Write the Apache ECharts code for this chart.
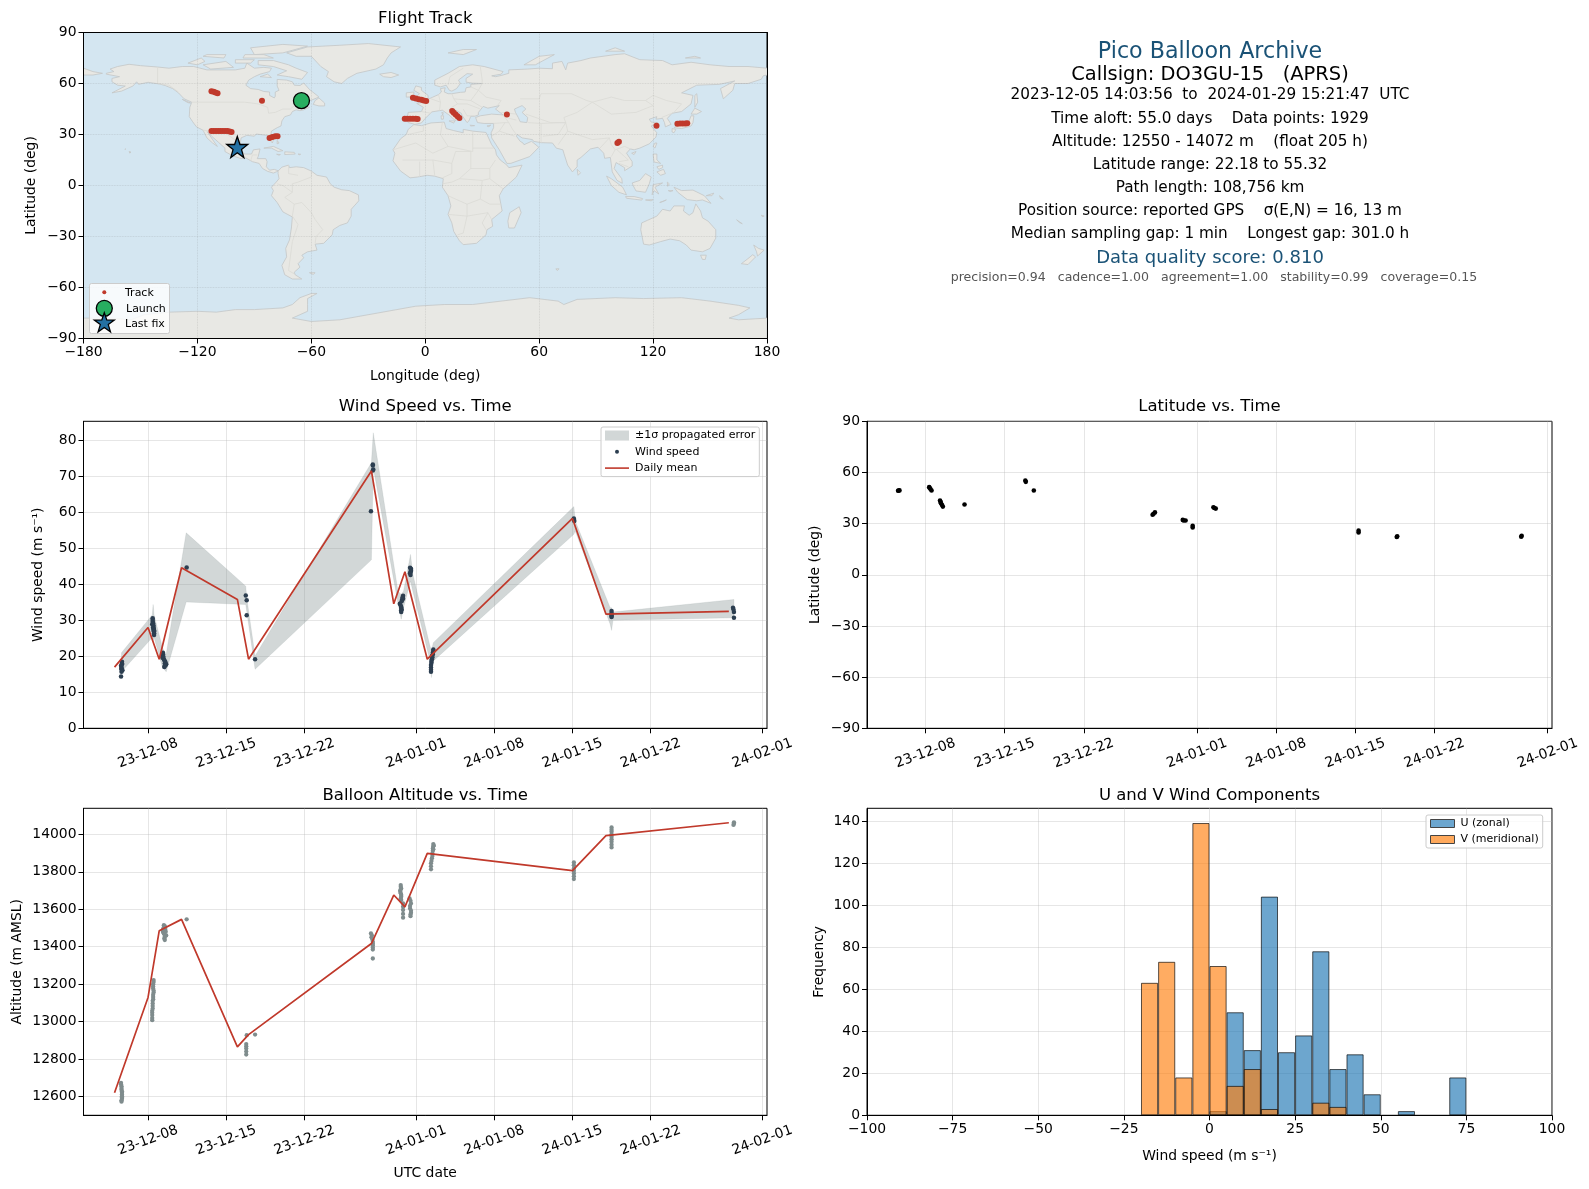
<!DOCTYPE html>
<html><head><meta charset="utf-8">
<style>html,body{margin:0;padding:0;background:#fff}#c{width:1589px;height:1189px}</style>
<script src="https://cdn.jsdelivr.net/npm/echarts@6/dist/echarts.min.js"></script>
</head><body><div id="c"></div>
<script>
// ---------- data ----------
const dateTicks=['23-12-08','23-12-15','23-12-22','24-01-01','24-01-08','24-01-15','24-01-22','24-02-01'];
const dailyT=['23-12-05T00','23-12-08T00','23-12-09T00','23-12-11T00','23-12-16T00','23-12-17T00','23-12-28T00','23-12-30T00','23-12-31T00','24-01-02T00','24-01-15T00','24-01-18T00','24-01-29T00'];
const dailyWind=[17.0,28.0,19.2,44.6,35.8,19.2,71.5,34.6,43.5,19.2,58.3,31.7,32.5];
const dailyAlt=[12620,13129,13485,13546,12865,12931,13417,13676,13613,13898,13806,13993,14062];
const bandT=['23-12-05T15','23-12-08T09','23-12-08T11','23-12-08T13','23-12-09T07','23-12-09T11','23-12-09T15','23-12-11T10','23-12-16T18','23-12-16T20','23-12-17T14','23-12-28T00','23-12-28T04','23-12-30T09','23-12-30T16','23-12-30T21','23-12-31T12','23-12-31T17','24-01-02T05','24-01-02T09','24-01-02T13','24-01-15T03','24-01-15T06','24-01-18T09','24-01-18T12','24-01-18T15','24-01-29T11'];
const bandUpper=[21.0,31.5,34.4,31.5,22.4,21.3,20.6,54.3,39.5,36.3,20.1,73.8,82.1,38.1,37.2,38.1,48.3,42.8,23.3,21.5,23.8,61.6,57.6,33.5,33.5,32.3,35.8];
const bandLower=[15.7,25.2,24.3,25.2,16.9,16.4,15.7,35.1,34.4,32.6,16.4,46.8,72.4,34.9,30.3,33.5,40.9,38.1,19.2,14.1,18.7,53.9,54.8,28.9,27.2,30.0,30.7];
const windT=['23-12-05T16','23-12-05T16','23-12-05T15','23-12-05T15','23-12-05T15','23-12-05T14','23-12-05T16','23-12-05T14','23-12-05T15','23-12-05T17',
 '23-12-08T10','23-12-08T10','23-12-08T09','23-12-08T11','23-12-08T12','23-12-08T13','23-12-08T13','23-12-08T12','23-12-08T10','23-12-08T11','23-12-08T12','23-12-08T12','23-12-08T13','23-12-08T13',
 '23-12-09T08','23-12-09T07','23-12-09T10','23-12-09T07','23-12-09T13','23-12-09T15','23-12-09T11','23-12-09T12','23-12-09T08','23-12-09T09','23-12-09T11','23-12-09T13','23-12-09T14','23-12-09T12',
 '23-12-11T11','23-12-16T18','23-12-16T20','23-12-16T20','23-12-17T14','23-12-27T23','23-12-28T03','23-12-28T03','23-12-28T03','23-12-28T04',
 '23-12-30T20','23-12-30T18','23-12-30T13','23-12-30T16','23-12-30T16','23-12-30T17','23-12-30T20','23-12-30T19','23-12-30T17','23-12-30T15','23-12-30T16','23-12-30T16',
 '23-12-31T11','23-12-31T13','23-12-31T12','23-12-31T12','23-12-31T13','23-12-31T13','23-12-31T11','24-01-02T13','24-01-02T12','24-01-02T10','24-01-02T10','24-01-02T09','24-01-02T08','24-01-02T08','24-01-02T13','24-01-02T12','24-01-02T11','24-01-02T09','24-01-02T08','24-01-02T08',
 '24-01-15T03','24-01-15T04','24-01-15T03','24-01-18T12','24-01-18T12','24-01-18T12','24-01-18T12','24-01-18T12','24-01-29T09','24-01-29T11','24-01-29T11','24-01-29T10'];
const windV=[18.5,17.8,17.0,16.4,15.7,14.4,18.1,17.4,16.7,16.1,
 30.6,29.6,28.9,28.1,27.5,26.9,25.9,27.1,30.1,29.2,28.5,27.8,27.2,26.4,
 21.0,20.1,19.2,19.6,18.5,17.8,17.0,18.0,20.6,19.9,18.9,18.3,17.6,17.3,
 44.7,36.9,35.6,31.4,19.2,60.3,73.3,71.6,73.0,71.9,
 36.8,35.8,34.6,33.5,32.3,33.0,36.0,36.4,35.3,34.1,33.7,32.8,
 44.6,44.0,43.4,42.6,44.3,43.7,43.1,21.9,21.0,20.1,19.2,18.2,16.9,15.7,21.5,20.5,19.7,18.7,17.6,16.3,
 58.0,57.6,58.3,32.6,31.5,30.9,32.0,31.2,33.5,32.3,30.7,33.0];
const altT=['23-12-05T14','23-12-05T15','23-12-05T15','23-12-05T16','23-12-05T16','23-12-05T16','23-12-05T15','23-12-05T14','23-12-05T15','23-12-05T16','23-12-05T16','23-12-05T16','23-12-05T15',
 '23-12-08T12','23-12-08T11','23-12-08T11','23-12-08T12','23-12-08T11','23-12-08T10','23-12-08T10','23-12-08T09','23-12-08T09','23-12-08T09','23-12-08T12','23-12-08T11','23-12-08T12','23-12-08T11','23-12-08T11','23-12-08T10','23-12-08T10','23-12-08T09','23-12-08T09',
 '23-12-09T10','23-12-09T09','23-12-09T08','23-12-09T12','23-12-09T11','23-12-09T13','23-12-09T10','23-12-09T12','23-12-09T11','23-12-09T09','23-12-09T10','23-12-09T12','23-12-09T12','23-12-09T13','23-12-09T14','23-12-09T15',
 '23-12-11T11','23-12-16T20','23-12-16T19','23-12-16T19','23-12-16T19','23-12-16T19','23-12-16T19','23-12-17T14',
 '23-12-27T23','23-12-28T00','23-12-28T03','23-12-28T03','23-12-28T03','23-12-28T03','23-12-28T01','23-12-28T02','23-12-28T03','23-12-28T03',
 '23-12-30T15','23-12-30T16','23-12-30T14','23-12-30T16','23-12-30T15','23-12-30T20','23-12-30T20','23-12-30T20','23-12-30T15','23-12-30T14','23-12-30T15','23-12-30T16','23-12-30T16','23-12-30T20','23-12-30T20',
 '23-12-31T10','23-12-31T13','23-12-31T11','23-12-31T13','23-12-31T12','23-12-31T12','23-12-31T11','23-12-31T13','23-12-31T12',
 '24-01-02T13','24-01-02T12','24-01-02T11','24-01-02T10','24-01-02T08','24-01-02T08','24-01-02T13','24-01-02T12','24-01-02T11','24-01-02T09','24-01-02T08','24-01-02T14','24-01-02T13',
 '24-01-15T03','24-01-15T03','24-01-15T03','24-01-15T03','24-01-15T03','24-01-15T03','24-01-15T03','24-01-18T12','24-01-18T12','24-01-18T12','24-01-18T12','24-01-18T12','24-01-18T12','24-01-18T12','24-01-18T12','24-01-18T12','24-01-29T11','24-01-29T10','24-01-29T11'];
const altV=[12673,12655,12637,12620,12602,12588,12573,12664,12646,12628,12611,12595,12580,
 13222,13200,13177,13156,13132,13111,13083,13058,13035,13008,13211,13188,13166,13144,13120,13097,13070,13047,13020,
 13515,13498,13480,13462,13444,13490,13470,13510,13506,13489,13471,13453,13436,13500,13480,13460,
 13546,12928,12880,12856,12824,12868,12840,12931,
 13471,13450,13426,13408,13385,13337,13460,13438,13417,13396,
 13729,13711,13694,13676,13658,13631,13596,13555,13720,13702,13685,13667,13649,13614,13575,
 13658,13631,13604,13581,13563,13645,13618,13592,13572,
 13948,13925,13898,13872,13845,13813,13936,13912,13885,13858,13829,13940,13920,
 13850,13818,13791,13761,13835,13805,13776,14037,14014,13987,13961,13930,14025,14000,13974,13945,14064,14050,14057];
const latT=['23-12-05T14','23-12-05T15','23-12-05T17','23-12-08T08','23-12-08T09','23-12-08T11','23-12-08T13','23-12-09T07','23-12-09T08','23-12-09T09','23-12-09T11','23-12-09T13','23-12-11T11','23-12-16T20','23-12-16T21','23-12-17T14','23-12-28T02','23-12-28T04','23-12-28T07','23-12-30T18','23-12-30T20','23-12-31T00','23-12-31T15','23-12-31T15','24-01-02T11','24-01-02T13','24-01-02T16','24-01-15T07','24-01-15T07','24-01-18T16','24-01-18T17','24-01-29T16','24-01-29T17'];
const latV=[49.3,49.4,49.5,51.4,51.0,50.2,49.4,43.6,42.8,42.0,41.0,40.0,41.2,55.3,54.5,49.4,35.2,35.8,36.6,32.2,31.8,31.8,28.8,27.8,39.6,39.2,38.8,25.9,24.8,22.2,22.6,22.3,22.9];
const trackLon=[-112.6,-111.5,-110.5,-109.4,-86,-112.6,-111.4,-110.2,-109,-107.8,-106.6,-105.4,-104.2,-103,-102,-82,-80.5,-79,-77.8,-10.8,-9.5,-8,-6.5,-5,-4,-6.5,-5,-3.5,-2,-0.8,0.5,14.2,15,16,17,18,43,101.2,102,121.8,132.8,134.2,135.6,137,138];
const trackLat=[55.4,55.1,54.7,54.2,49.9,32,32,32,32,32,32,32,32,31.8,31.5,28,28.6,29,29,39.3,39.3,39.3,39.3,39.3,39.1,51.6,51.2,50.8,50.4,50,49.7,43.8,42.8,41.8,40.8,39.7,41.7,25,25.8,35.2,36.3,36.4,36.4,36.5,36.6];
const launchPoint=[-65.2,49.9];
const lastFix=[-99,22.6];
const binCentres=[-17.5,-12.5,-7.5,-2.5,2.5,7.5,12.5,17.5,22.5,27.5,32.5,37.5,42.5,47.5,52.5,57.5,62.5,67.5,72.5];
const uCounts=[0,0,0,0,2,49,31,104,30,38,78,22,29,10,0,2,0,0,18];
const vCounts=[63,73,18,139,71,14,22,3,0,0,6,4,0,0,0,0,0,0,0];
const infoLines=['2023-12-05 14:03:56  to  2024-01-29 15:21:47  UTC','Time aloft: 55.0 days    Data points: 1929','Altitude: 12550 - 14072 m    (float 205 h)','Latitude range: 22.18 to 55.32','Path length: 108,756 km','Position source: reported GPS    σ(E,N) = 16, 13 m','Median sampling gap: 1 min    Longest gap: 301.0 h'];
// coarse coastlines, [lon,lat] pairs
const landShapes=[
[-168,66,-164,67,-166,68.5,-162,70,-156,71.3,-150,70.5,-141,69.7,-135,69,-128,70,-122,70,-115,68,-108,68,-100,68,-95,69,-94,72,-90,69,-85,69.5,-81,69,-82,67,-87,65.5,-90,64,-93,62,-94.5,59,-92,57,-88,56.5,-85,55.3,-82,55,-82,53,-79.5,51.5,-79,52.5,-79,55,-77,56,-78,58.5,-78,62.4,-73,62,-70,61,-69,59,-66,58.8,-64,60.3,-61,56.5,-57,53,-56,52,-60,50.2,-66,50,-69,48.5,-65,49,-65,47.5,-61,46,-64,44.5,-66,44,-68,44.5,-70,43.5,-71,41.5,-74,40.5,-75.5,38,-76,35,-78,34,-81,32,-81.3,30,-80,27,-80.5,25,-82,27,-83,29.5,-85,29.7,-89,30.3,-90,29,-94,29.5,-97,28,-97.5,24,-97.5,21,-95,18.5,-91.5,18.5,-90.5,21,-87,21.5,-88,17,-88.5,15.8,-84,15.8,-83.3,14,-83.7,11,-82,9,-79.5,9.5,-77.3,8.6,-78.5,8,-80,7.3,-83,8.3,-85.7,10,-87.5,13,-91,14,-94.5,16.2,-97,15.8,-101.5,17.5,-105.5,20,-105.5,22,-109,25.5,-112.5,29,-114.8,31.7,-112,27,-109.5,23,-112,25,-115,28,-117,32.5,-120.5,34.5,-122.5,37.5,-124.3,40.5,-124,46,-123,49,-127,51,-130,54.5,-133,57,-137,58.8,-140,59.7,-146,60.7,-151,59.5,-152,61,-154,58.5,-160,55.5,-165,54.5,-158,58.5,-162,59,-165,61,-165,63,-161,64,-168,65.5],
[-73,78,-68,76,-60,76,-55,70,-51,67,-52,64,-48,61,-44,60,-41,63,-36,66,-26,68.5,-22,71,-20,75,-18,78,-13,81.5,-30,83.5,-45,82.5,-62,81.5],
[-80,73.5,-72,71,-68,69,-62,66.5,-65,62.5,-72,64,-78,65,-73,67.5,-80,70,-88,71,-88,73.5],
[-117,71,-105,73,-101,69.5,-113,68.5],[-125,72,-118,75,-116,73,-120,71],[-90,77,-75,78,-62,82,-75,83,-92,81],[-96,75,-80,75,-85,77,-95,77],[-117,76,-106,75,-105,77,-115,77],[-100,72,-92,72,-90,74,-100,74],[-87,64,-81,63.5,-83,65.5],
[-59,47.7,-56,46.8,-53,46.8,-53,48.5,-56,51.5,-58,50],[-85,22,-80,23,-75,20.5,-77.5,20,-81,22],[-74,19.8,-69,19.5,-68.5,18.5,-74,18.2],[-78.3,18.4,-76.3,18.2,-77,17.8],[-67,18.5,-65.6,18.4,-66,18],[-128,50.7,-123.5,48.5,-125,48.7],[-156,20,-155,19.7,-155.6,19],[-158,21.6,-157.7,21.3,-158.2,21.3],[-78,26.5,-77,25,-78,24.5],
[-77.5,8.5,-75.5,10.8,-72,12,-71.5,10.5,-68,11,-64,10.5,-60,8.5,-57,6,-52,5,-50,1,-48,-1,-44,-2.5,-40,-3,-35.2,-5.5,-35,-9,-39,-14,-39,-18,-41,-22,-45,-23.5,-48.5,-26,-49,-29,-53.5,-34,-58,-34.5,-57,-38,-62,-39,-65,-41,-64,-42.5,-67,-46,-66,-48,-69,-51,-68.5,-52.5,-65,-55,-70,-55,-74,-52.5,-75.5,-47,-73,-42,-73.5,-37,-71.5,-32,-70.5,-25,-70,-18.5,-75,-15.5,-78,-10,-81,-6,-80,-3,-81,-1,-78.5,2,-77,4,-77.5,7],
[-61,-51.3,-58,-51.3,-59,-52.3],
[-6,35.8,-2,35.2,3,36.8,10,37.3,11,33.5,15,32.3,20,31,20,33,25,32,32,31.2,32.5,30,35,24,37,21,37.5,18,39.5,15,43,12,44,10.5,51,12,48,5,41,-2,39,-6,40.5,-15,35,-20,35.5,-24,32.5,-26,32,-29,27,-34,20,-34.8,18,-32.5,15,-27,14,-22,12,-17,13.5,-12,12,-6,9,-1,9.5,4,5,5.5,1,6,-4,5,-8,4.5,-13,8.5,-17,14.5,-16,19,-17,21,-13,27.5,-10,30,-9,33],
[-9,37,-9.5,38.8,-9,43,-2,43.5,-1,46,-4.5,48.3,-1.5,48.8,2,51,4,52,7,53.5,8.5,55,8,57,10.5,57.5,10,55,12,54,14,54,18.5,54.8,21,55,21.5,57.5,24,58,24,59.5,30,60,25,60.2,21.5,60.8,21.5,63,25,65.5,22,65.8,17.5,62,18.5,60,16.5,57,14,55.5,12.7,56,11,59,8,58,5,59,5,62,12,66,18,70,25,71,31,70,41,67,40,65.5,35,64.5,37,64,40,64.7,44,66,44,68,54,68.5,60,69,67,68.7,67,72,72,73,74,68,75,72,82,73.5,87,75,100,77,105,77.5,113,74,125,73.5,130,71,140,72.5,150,71,160,70,170,70,180,69,180,65,178,64.5,177,62.5,170,60,163,60,162,56,157,51,155.5,57,163,61.5,155,59.5,143,59,135,54.5,141,53,140,48,135,43.5,130,42.5,127.5,39.5,129.5,36,126.5,34.5,126,37,125,39.5,121.5,39,122,40.5,118,39,119,37.3,122.5,37,119,35,122,31,121.5,28.5,118,24.5,113,22,110,21,108,21.5,106,19,109,14,109,11.5,105,8.7,105,10.5,100.5,13.5,99.5,10,103.5,4,103.8,1.3,101,3,98.5,8,97.5,16.5,94.5,16,94,19,91,22.5,87,21.5,82,16.5,80,15,80,11,77.5,8,75,12,73,19,72.5,21,69,22,67,25,61,25.2,57,26,56.5,27,51,28,48.5,30,48,29,50,26,51.5,25,52,24,56,26,59.8,22.5,55,17,45,13,43,13,39,21,35,28,34.7,31,36,34,36,36.5,31,36.5,27.5,37,26.5,40,29,41,35,42,41,41.5,37,45,39,47,35,46,33,45.5,30.5,46.5,28,43,28,41.5,26,40.7,24,40.7,23,38,22,37,19.5,41,19,42.5,14,45.5,12.5,44.5,16,42,18.5,40,16.5,39.5,16,38,12.5,41.5,9,44.3,3.5,43.3,0,39.5,-2,36.8,-5.5,36],
[-5.5,50,1.5,51.2,1.5,53,-2,56,-2,57.7,-5,58.6,-6,56,-3,54,-5,52],[-10,52,-6,52.2,-6,55,-10,54.5],[-24,65.5,-18,66.5,-14,65,-18,63.5,-22,64],[12,78,20,80,27,80,20,77],[52,71,58,71,68,77,60,76],[95,79,105,79,100,81],[137,75,145,75,142,76],[-180,69,-175,67,-170,66,-175,65,-180,65],
[142,46,143.5,49,143,54,142,53,142,48],[131,34,135,33.5,140,35,141,37,141.5,41,140,41,139,38,136,36.5,133,35.5],[140,42,143,42,145.5,43.5,142,45.5],[130,33.5,132,33,131,31,130,31.5],[120,23,121,25,122,25,121,22],[108.7,19,111,20,110,18.2],
[120,18.5,122,18.5,122,15,124,13,120.5,13.8],[122,8,125.5,9.5,126.5,7,124,6],[122,11,125,12,125,10.5,123,9.5],[109,1.5,113,3,116,7,119,5,118,1,116,-4,111,-3.2,109.5,0],[95.5,5.5,98,4,104,-1,106,-5.5,102,-4,98,0],[105.5,-6.5,110,-6.5,114.5,-7.7,114,-8.6,106,-7.5],[119.5,-5.5,120,0.5,125,1.5,121,-1,123,-5,120.5,-3],[131,-1,135,-3,141,-2.7,147,-6,150.5,-10.5,146,-8.5,143,-9,138,-8.3,133,-4],[123.5,-10,127,-8.5,125,-9.5],[116,-8.5,120,-8.3,119,-9],[148,-6,152,-4.5,151,-6],[155,-6,157,-8,155.5,-7.5],[128,-3,130.5,-3,129,-3.6],[127.5,2,128.5,1,127.7,-0.5],
[80,9.5,81.8,7.5,80.5,6],[49.5,-12.5,50.5,-16,47,-25,44,-25,43.5,-21,44.5,-16],
[114,-22,113.5,-26,115,-34.5,118,-35,124,-33,129,-31.5,134,-32.5,137.5,-35,140,-38,146,-39,150,-37,153,-31,153,-26,149,-21,146,-19,145,-15,142.5,-10.8,141,-16,139,-17.5,136,-15,136.5,-12,131,-12,129,-15,125,-14,122,-18,117,-20.5],
[145,-41,148,-41,147.5,-43.5,146,-43.5],[173,-35,175.5,-37,178.5,-38,175,-41.5,174.5,-39],[172.5,-40.7,174,-42,170,-46.5,166.5,-46,170,-43],[164,-20.2,167,-22.5,165.5,-21.8],[177,-17.5,178.5,-18,177.5,-18.3],
[8.3,41,9.7,41,9.5,39,8.5,39],[8.7,43,9.5,42.8,9.2,41.5],[12.5,38,15.5,38,15,36.7],[23.5,35.5,26,35.2,24,35],[32.5,35,34.5,35.5,33.5,34.6],[68.8,-49,70.5,-49,69.5,-50],
[-180,-78,-165,-78,-155,-79,-148,-76,-135,-74.5,-120,-74,-110,-74.5,-100,-73,-90,-73,-75,-72,-70,-70,-66,-66,-60,-63.5,-57,-63.5,-62,-66.5,-62,-70,-62,-74,-70,-78,-60,-80,-45,-79,-35,-77,-25,-75,-15,-73,-5,-71,10,-70,25,-70,40,-68,55,-66,70,-68,73,-70,80,-67,100,-66,115,-66.5,135,-66,150,-68,165,-70.5,171,-72,165,-76,160,-78,165,-79,180,-78,180,-90,-180,-90]
];
const inlandSeas=[[47,45,51,47,53,45,51,43,54,40,53.5,37,50,37.5,49,40,47.5,43]];
const borderLines=[
[-123,49,-95,49,-88,48,-83,46,-82.5,42.5,-79,43,-75,45,-71,45,-69,47,-67.5,45],[-141,69.7,-141,60,-135,59,-130,55],[-117,32.5,-108,31.5,-106,31.7,-103,29,-99,26,-97.3,26],[-92,14.5,-91,18,-88.5,18],
[-70,-18,-69,-11,-74,-7,-70,-4,-70,1,-67,2,-60,5,-60,8.5],[-58,-34,-57.5,-30,-54,-26,-58,-20,-60,-16,-65,-10,-69,-11],[-70,-18,-67,-23,-70,-33,-72,-50,-69,-52],[-78,1,-75,0,-70,-4],[-72,12,-72,7,-67,6],
[-9,30,-1,32,-1,35],[9,37,8,30,12,23,25,20,25,31.5],[25,22,36,22],[-17,21,-5,25,4,19,12,23],[-12,15,4,15,14,13,16,20,24,20],[24,10,24,20],[14,13,14,7,9,4.5],[24,10,34,10,37,15],[34,10,34,4,41,-2],[24,10,18,4,14,2,9,1],[18,4,30,3,34,4],[30,3,29,-8,22,-11,12,-6],[29,-8,34,-11,40,-11],[22,-11,22,-18,12,-17],[22,-18,20,-28,17,-29],[22,-18,33,-16,35,-20],[33,-16,30,-22,32,-26],[5,6,4,15],[-3,5,-3,14],
[-2,43.5,3,42.5],[3,51,8,49,7.5,44],[8,49,7,53.5],[14,54,15,51,24,50,30,46],[15,51,17,48,22,48,29,45],[14,46,17,48],[20,45,22,41,26,41],[24,58,28,56,24,50],[30,60,28,56,32,52,40,50,38,47],[29,70,30,62,30,60],[20,69,13,64,12,59],[40,43,48,42],[41,41.5,44,37,42,37,36,36.5],[44,37,46,33,48,30],[42,37,39,32,35,29],[39,32,47,29],[44,39.5,48,38.5],[54,37,61,36.5,61,25],[61,36.5,71,37,74,37,70,30,62,29],[74,37,75,32,70,24],[75,32,80,30,88,27,97,28,92,22],[97,28,98,24,100,21,98,17],[100,21,105,23,108,21.5],[101,21,105,17,107,15],[102,13,107,11],[107,15,102,14],
[50,51,60,51,61,54,77,54,85,50,88,49],[53,42,66,37,74,37],[80,43,73,40,74,37],[88,49,80,43],[88,49,98,42,111,43,120,47,116,50,120,53,127,50,135,48,131,43,130,42.5],[88,49,98,52,105,50,116,50],[124.5,40,130,42.5]
];
const STAR='path://M12 0L14.9 8.3H23.4L16.6 13.6L19.1 22L12 17L4.9 22L7.4 13.6L.6 8.3H9.1Z';
// ---------- helpers ----------
const T=s=>Date.parse('20'+s+':00:00Z');
const D=s=>Date.parse('20'+s+'T00:00:00Z');
const FONT='DejaVu Sans';
const pair=(a,b)=>a.map((v,i)=>[v,b[i]]);
const tpair=(a,b)=>a.map((v,i)=>[T(v),b[i]]);
const tickMs=dateTicks.map(D);
const GRIDCOL='rgba(176,176,176,0.32)';
const MAPGRID='rgba(120,120,120,0.25)';
const minus=v=>String(v).replace('-','\u2212');
const lbl={color:'#000',fontFamily:FONT,fontSize:13.9};
function baseY(gridIndex,min,max,ticks,name,gap){
  return {type:'value',gridIndex,min,max,name,nameLocation:'middle',nameGap:gap,
    nameTextStyle:{color:'#000',fontFamily:FONT,fontSize:13.9},
    axisLine:{show:true,onZero:false,lineStyle:{color:'#000',width:1}},
    axisTick:{show:true,length:5,customValues:ticks,lineStyle:{color:'#000',width:1}},
    axisLabel:Object.assign({},lbl,{margin:7,customValues:ticks,formatter:minus,showMinLabel:true,showMaxLabel:true}),
    splitLine:{show:true,lineStyle:{color:GRIDCOL,width:1}}};
}
function timeX(gridIndex,min,max,name){
  return {type:'value',gridIndex,min:Date.parse(min),max:Date.parse(max),name,nameLocation:'middle',nameGap:51,
    nameTextStyle:{color:'#000',fontFamily:FONT,fontSize:13.9},
    axisLine:{show:true,onZero:false,lineStyle:{color:'#000',width:1}},
    axisTick:{show:true,length:5,customValues:tickMs,lineStyle:{color:'#000',width:1}},
    axisLabel:Object.assign({},lbl,{margin:25,rotate:20,align:'center',verticalAlign:'middle',hideOverlap:false,customValues:tickMs,showMinLabel:true,showMaxLabel:true,
      formatter:v=>new Date(v).toISOString().slice(2,10)}),
    splitLine:{show:true,lineStyle:{color:GRIDCOL,width:1}}};
}
const range=(a,b,s)=>{const r=[];for(let v=a;v<=b;v+=s)r.push(v);return r;};
const polyItem=(shape,api)=>{const p=[];for(let i=0;i<shape.length;i+=2)p.push(api.coord([shape[i],shape[i+1]]));return p;};
// dot icon inside a fixed 24x10 box so the legend does not blow it up
const DOT='path://M0 0L0 0M24 10L24 10M14 5A2 2 0 1 1 10 5A2 2 0 1 1 14 5Z';
const LINE='path://M0 0L0 0M24 10L24 10M0 4.2H24V5.8H0Z';
const G=[{l:83.5,t:32.5,w:683.5,h:306},{l:83.5,t:421.3,w:683.5,h:307},{l:867,t:421.3,w:685,h:307},{l:83.5,t:808.3,w:683.5,h:307},{l:867,t:808.3,w:685,h:307}];
const titleOf=(text,g,y,extra)=>Object.assign({text,left:g.l+g.w/2,top:y,textAlign:'center',textStyle:{color:'#000',fontFamily:FONT,fontSize:16.5,fontWeight:'normal'},padding:0},extra||{});
const infoCx=1210;
const infoY=[95.5,119,142,165,188,211,234];
const gText=(text,x,y,size,color)=>({type:'text',x,y,silent:true,z:20,style:{text,fontFamily:FONT,fontSize:size,fill:color,textAlign:'center',textVerticalAlign:'middle',align:'center',verticalAlign:'middle'}});
const starPts=(cx,cy,R)=>{const p=[];for(let i=0;i<10;i++){const r=i%2?R*0.4:R,a=-Math.PI/2+i*Math.PI/5;p.push([cx+r*Math.cos(a),cy+r*Math.sin(a)]);}return p;};
const lgText=(text,x,y)=>({type:'text',x,y,silent:true,z:22,style:{text,fontFamily:FONT,fontSize:11,fill:'#000',align:'left',verticalAlign:'middle',textVerticalAlign:'middle'}});
const option={
  animation:false,useUTC:true,backgroundColor:'#fff',
  textStyle:{fontFamily:FONT},
  title:[titleOf('Flight Track',G[0],10.5),titleOf('Wind Speed vs. Time',G[1],398.5),titleOf('Latitude vs. Time',G[2],398.5),titleOf('Balloon Altitude vs. Time',G[3],787),titleOf('U and V Wind Components',G[4],787)],
  grid:G.map((g,i)=>({left:g.l,top:g.t,width:g.w,height:g.h,containLabel:false,show:true,borderColor:'#000',borderWidth:1,backgroundColor:i==0?'#d4e6f1':'#fff'})),
  xAxis:[
    {type:'value',gridIndex:0,min:-180,max:180,interval:60,name:'Longitude (deg)',nameLocation:'middle',nameGap:31,z:3,
      nameTextStyle:{color:'#000',fontFamily:FONT,fontSize:13.9},
      axisLine:{show:true,onZero:false,lineStyle:{color:'#000',width:1}},axisTick:{length:5,lineStyle:{color:'#000'}},
      axisLabel:Object.assign({},lbl,{margin:7,formatter:minus,showMinLabel:true,showMaxLabel:true}),
      splitLine:{show:true,lineStyle:{color:MAPGRID,width:0.8,type:'dotted'}}},
    {type:'value',gridIndex:0,position:'top',min:-180,max:180,z:3,axisLine:{show:true,onZero:false,lineStyle:{color:'#000',width:1}},axisTick:{show:false},axisLabel:{show:false},splitLine:{show:false}},
    timeX(1,'2023-12-02T05:20Z','2024-02-01T10:00Z',''),
    timeX(2,'2023-12-02T20:04Z','2024-02-01T09:21Z',''),
    timeX(3,'2023-12-02T05:20Z','2024-02-01T10:00Z','UTC date'),
    {type:'value',gridIndex:4,min:-100,max:100,interval:25,name:'Wind speed (m s\u207B\u00B9)',nameLocation:'middle',nameGap:34,
      nameTextStyle:{color:'#000',fontFamily:FONT,fontSize:13.9},
      axisLine:{show:true,onZero:false,lineStyle:{color:'#000',width:1}},axisTick:{length:5,lineStyle:{color:'#000'}},
      axisLabel:Object.assign({},lbl,{margin:7,formatter:minus,showMinLabel:true,showMaxLabel:true}),
      splitLine:{show:true,lineStyle:{color:GRIDCOL,width:1}}}
  ],
  yAxis:[
    {type:'value',gridIndex:0,min:-90,max:90,interval:30,name:'Latitude (deg)',nameLocation:'middle',nameGap:45,z:3,
      nameTextStyle:{color:'#000',fontFamily:FONT,fontSize:13.9},
      axisLine:{show:true,onZero:false,lineStyle:{color:'#000',width:1}},axisTick:{show:true,length:5,lineStyle:{color:'#000'}},
      axisLabel:Object.assign({},lbl,{margin:7,formatter:minus,showMinLabel:true,showMaxLabel:true}),
      splitLine:{show:true,lineStyle:{color:MAPGRID,width:0.8,type:'dotted'}}},
    {type:'value',gridIndex:0,position:'right',min:-90,max:90,z:3,axisLine:{show:true,onZero:false,lineStyle:{color:'#000',width:1}},axisTick:{show:false},axisLabel:{show:false},splitLine:{show:false}},
    baseY(1,0,85.3,range(0,80,10),'Wind speed (m s\u207B\u00B9)',38),
    baseY(2,-90,90,range(-90,90,30),'Latitude (deg)',45),
    baseY(3,12500,14139,range(12600,14000,200),'Altitude (m AMSL)',59),
    baseY(4,0,146,range(0,140,20),'Frequency',41)
  ],
  legend:[
    {left:601,top:427,orient:'vertical',itemWidth:24,itemHeight:10,itemGap:5.3,padding:[3,4,3,4],backgroundColor:'rgba(255,255,255,0.8)',borderColor:'#ccc',borderWidth:1,borderRadius:2,
      textStyle:{fontFamily:FONT,fontSize:11,color:'#000',padding:[0,0,0,1]},selectedMode:false,
      data:[{name:'\u00B11\u03C3 propagated error',icon:'rect',itemStyle:{color:'rgba(127,140,141,0.35)'}},{name:'Wind speed',icon:DOT,itemStyle:{color:'#2c3e50'}},{name:'Daily mean',icon:LINE,itemStyle:{color:'#c0392b'},lineStyle:{opacity:0}}]},
    {left:1426,top:815,orient:'vertical',itemWidth:24,itemHeight:8,itemGap:5,padding:[3,4,3,4],backgroundColor:'rgba(255,255,255,0.8)',borderColor:'#ccc',borderWidth:1,borderRadius:2,
      textStyle:{fontFamily:FONT,fontSize:11,color:'#000',padding:[0,0,0,1]},selectedMode:false,
      data:[{name:'U (zonal)',icon:'rect',itemStyle:{color:'#6ca6cf',borderColor:'#444',borderWidth:1,opacity:1}},{name:'V (meridional)',icon:'rect',itemStyle:{color:'#ffa95c',borderColor:'#444',borderWidth:1,opacity:1}}]}
  ],
  series:[
    {type:'custom',name:'Land',xAxisIndex:0,yAxisIndex:0,coordinateSystem:'cartesian2d',clip:true,z:2,silent:true,data:landShapes.map(()=>[0,0]),encode:{x:0,y:1},
      renderItem:(p,api)=>({type:'polygon',shape:{points:polyItem(landShapes[p.dataIndex],api)},style:{fill:'#e8e8e4',stroke:'#c4c6c6',lineWidth:0.8}})},
    {type:'custom',name:'Inland seas',xAxisIndex:0,yAxisIndex:0,coordinateSystem:'cartesian2d',clip:true,z:2,silent:true,data:inlandSeas.map(()=>[0,0]),encode:{x:0,y:1},
      renderItem:(p,api)=>({type:'polygon',shape:{points:polyItem(inlandSeas[p.dataIndex],api)},style:{fill:'#d4e6f1',stroke:'#c4c6c6',lineWidth:0.8}})},
    {type:'custom',name:'Borders',xAxisIndex:0,yAxisIndex:0,coordinateSystem:'cartesian2d',clip:true,z:2,silent:true,data:borderLines.map(()=>[0,0]),encode:{x:0,y:1},
      renderItem:(p,api)=>({type:'polyline',shape:{points:polyItem(borderLines[p.dataIndex],api)},style:{fill:null,stroke:'#dadad6',lineWidth:0.8}})},
    {type:'scatter',name:'Track',xAxisIndex:0,yAxisIndex:0,z:4,symbolSize:6,itemStyle:{color:'#c0392b',opacity:1},data:pair(trackLon,trackLat)},
    {type:'scatter',name:'Launch',xAxisIndex:0,yAxisIndex:0,z:5,symbolSize:16,itemStyle:{color:'#27ae60',borderColor:'#000',borderWidth:1.3,opacity:1},data:[launchPoint]},
    {type:'scatter',name:'Last fix',xAxisIndex:0,yAxisIndex:0,z:6,symbol:STAR,symbolSize:21,itemStyle:{color:'#2471a3',borderColor:'#000',borderWidth:1.3,opacity:1},data:[lastFix]},
    {type:'custom',name:'\u00B11\u03C3 propagated error',xAxisIndex:2,yAxisIndex:2,coordinateSystem:'cartesian2d',clip:true,z:2,silent:true,data:[[T(bandT[0]),bandUpper[0]]],encode:{x:0,y:1},
      renderItem:(p,api)=>{const up=bandT.map((t,i)=>api.coord([T(t),bandUpper[i]]));const lo=bandT.map((t,i)=>api.coord([T(t),bandLower[i]])).reverse();
        return {type:'polygon',shape:{points:up.concat(lo)},style:{fill:'rgba(127,140,141,0.35)',stroke:'rgba(127,140,141,0.2)',lineWidth:0.7}};}},
    {type:'scatter',name:'Wind speed',xAxisIndex:2,yAxisIndex:2,z:3,symbolSize:4.5,itemStyle:{color:'#2c3e50',opacity:1},data:tpair(windT,windV)},
    {type:'line',name:'Daily mean',xAxisIndex:2,yAxisIndex:2,z:4,showSymbol:false,symbol:'none',lineStyle:{color:'#c0392b',width:1.7},itemStyle:{color:'#c0392b'},data:tpair(dailyT,dailyWind)},
    {type:'scatter',name:'Latitude',xAxisIndex:3,yAxisIndex:3,z:3,symbolSize:4.6,itemStyle:{color:'#000',opacity:1},data:tpair(latT,latV)},
    {type:'scatter',name:'Altitude',xAxisIndex:4,yAxisIndex:4,z:3,symbolSize:4.3,itemStyle:{color:'#7f8c8d',opacity:1},data:tpair(altT,altV)},
    {type:'line',name:'Altitude daily mean',xAxisIndex:4,yAxisIndex:4,z:4,showSymbol:false,symbol:'none',lineStyle:{color:'#c0392b',width:1.7},data:tpair(dailyT,dailyAlt)},
    {type:'bar',name:'U (zonal)',xAxisIndex:5,yAxisIndex:5,barWidth:17.15,barGap:'-100%',z:3,itemStyle:{color:'#1f77b4',borderColor:'#000',borderWidth:1,opacity:0.65},data:pair(binCentres,uCounts).filter(d=>d[1]>0)},
    {type:'bar',name:'V (meridional)',xAxisIndex:5,yAxisIndex:5,barWidth:17.15,barGap:'-100%',z:4,itemStyle:{color:'#ff7f0e',borderColor:'#000',borderWidth:1,opacity:0.65},data:pair(binCentres,vCounts).filter(d=>d[1]>0)}
  ],
  graphic:[
    gText('Pico Balloon Archive',infoCx,52.5,22.2,'#1a5276'),
    gText('Callsign: DO3GU-15   (APRS)',infoCx,75,19.44,'#000'),
    ...infoLines.map((s,i)=>gText(s,infoCx,infoY[i],15.28,'#000')),
    gText('Data quality score: 0.810',infoCx,258.7,18,'#1a5276'),
    gText('precision=0.94   cadence=1.00   agreement=1.00   stability=0.99   coverage=0.15',infoCx+4,278,12.55,'#555'),
    {type:'rect',silent:true,z:20,shape:{x:89.5,y:283.5,width:80,height:50,r:2},style:{fill:'rgba(255,255,255,0.8)',stroke:'#ccc',lineWidth:1}},
    {type:'circle',silent:true,z:21,shape:{cx:104.3,cy:292.3,r:2},style:{fill:'#c0392b'}},
    {type:'circle',silent:true,z:21,shape:{cx:104.3,cy:308.3,r:8},style:{fill:'#27ae60',stroke:'#000',lineWidth:1.3}},
    {type:'polygon',silent:true,z:21,shape:{points:starPts(104.3,323.3,10.5)},style:{fill:'#2471a3',stroke:'#000',lineWidth:1.3}},
    lgText('Track',125,293),lgText('Launch',126,309),lgText('Last fix',125,324)
  ]
};
const chart=echarts.init(document.getElementById('c'),null,{renderer:'canvas',width:1589,height:1189});
chart.setOption(option);
</script></body></html>
